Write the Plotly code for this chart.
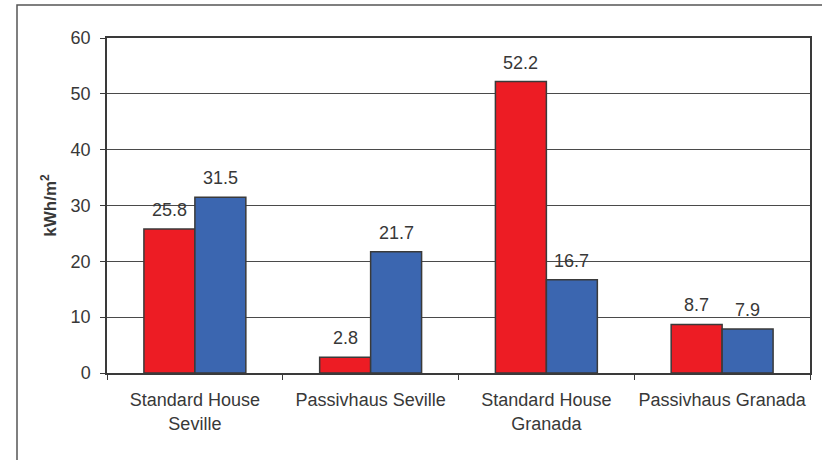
import plotly.graph_objects as go

# Energy demand per house type and location
categories = ["Standard House<br>Seville", "Passivhaus Seville",
              "Standard House<br>Granada", "Passivhaus Granada"]
red_values = [25.8, 2.8, 52.2, 8.7]
blue_values = [31.5, 21.7, 16.7, 7.9]
y_ticks = [0, 10, 20, 30, 40, 50, 60]

RED = "#ED1C24"
BLUE = "#3B66B0"
EDGE = "#3a3a3a"
TEXT = "#383838"
FONT = "Liberation Sans, Arial, sans-serif"

W, H = 822, 460
M_L, M_R, M_T, M_B = 107, 12, 38, 86.5

fig = go.Figure()
fig.add_trace(go.Bar(x=categories, y=red_values, marker=dict(color=RED, line=dict(color=EDGE, width=1.5)),
                     showlegend=False, hoverinfo="y"))
fig.add_trace(go.Bar(x=categories, y=blue_values, marker=dict(color=BLUE, line=dict(color=EDGE, width=1.5)),
                     showlegend=False, hoverinfo="y"))

# value labels above each bar
plot_w = W - M_L - M_R
bar_w = plot_w / len(categories) * (1 - 0.42) / 2
annotations = []
for series, shift in ((red_values, -bar_w / 2), (blue_values, bar_w / 2)):
    for cat, val in zip(categories, series):
        annotations.append(dict(x=cat, y=val, xref="x", yref="y", text=f"{val:.1f}",
                                showarrow=False, xshift=shift, yshift=7, yanchor="bottom",
                                font=dict(family=FONT, size=18, color=TEXT)))

fig.update_layout(
    width=W, height=H,
    margin=dict(l=M_L, r=M_R, t=M_T, b=M_B),
    paper_bgcolor="white", plot_bgcolor="white",
    barmode="group", bargap=0.42, bargroupgap=0,
    font=dict(family=FONT, size=18, color=TEXT),
    annotations=annotations,
    xaxis=dict(
        showline=True, linecolor=EDGE, linewidth=1.5, mirror=True,
        ticks="outside", tickson="boundaries", ticklen=5, tickcolor=EDGE,
        tickfont=dict(family=FONT, size=18, color=TEXT),
        tickangle=0, automargin=False,
        ticklabelstandoff=10,
        showgrid=False, fixedrange=True,
    ),
    yaxis=dict(
        range=[0, 60], tickvals=y_ticks,
        showline=True, linecolor=EDGE, linewidth=1.5, mirror=True,
        ticks="outside", ticklen=5, tickcolor=EDGE,
        tickfont=dict(family=FONT, size=18, color=TEXT),
        ticklabelstandoff=6, automargin=False,
        showgrid=True, gridcolor="#4a4a4a", gridwidth=1,
        zeroline=False,
        title=dict(text="<b>kWh/m<sup>2</sup></b>", font=dict(family=FONT, size=17, color=TEXT),
                   standoff=10),
    ),
    shapes=[
        # outer chart frame
        dict(type="rect", xref="paper", yref="paper",
             x0=(17 - M_L) / plot_w, x1=1.2,
             y0=-0.5, y1=(H - M_B - 5) / (H - M_T - M_B),
             line=dict(color="#555555", width=1.5), fillcolor="rgba(0,0,0,0)"),
    ],
)

fig.write_html("out.html")
